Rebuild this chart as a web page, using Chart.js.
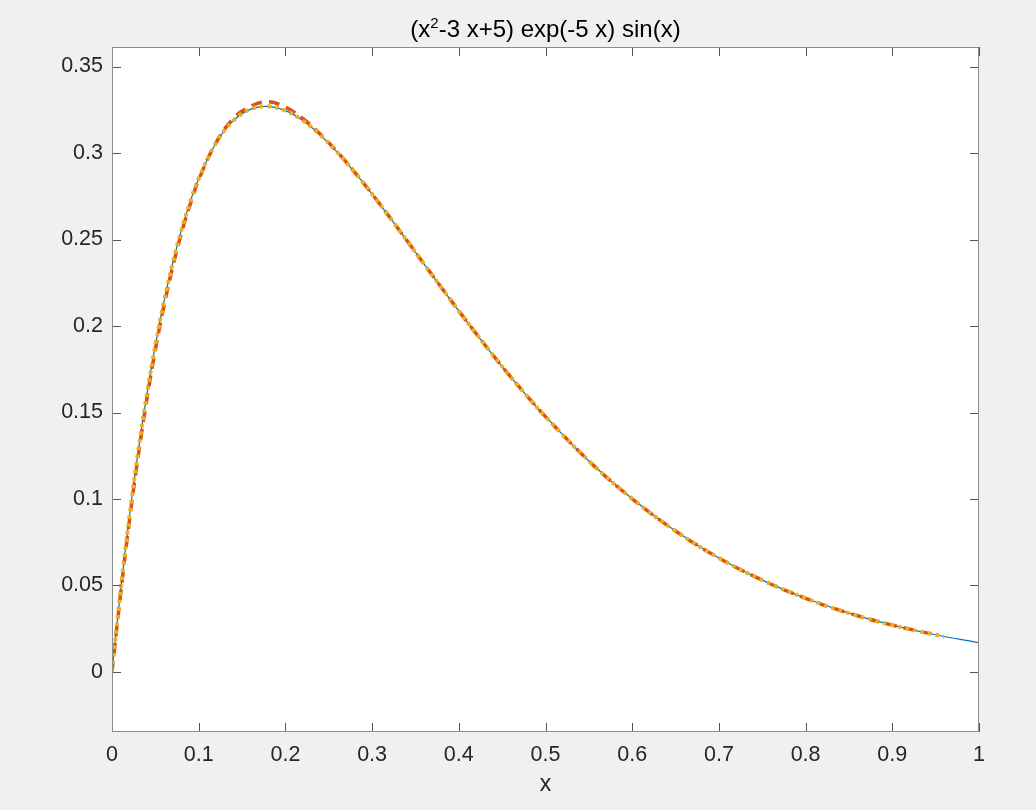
<!DOCTYPE html>
<html>
<head>
<meta charset="utf-8">
<style>
  html, body { margin: 0; padding: 0; background: #f0f0f0; }
  #wrap { width: 1036px; height: 810px; }
</style>
<script src="https://cdn.jsdelivr.net/npm/chart.js@4.4.0/dist/chart.umd.min.js"></script>
</head>
<body>
<div id="wrap"><canvas id="chart" width="1036" height="810"></canvas></div>
<script>
// values
const xs = [0, 0.01, 0.02, 0.03, 0.04, 0.05, 0.06, 0.07, 0.08, 0.09, 0.10,
            0.12, 0.14, 0.16, 0.18, 0.20, 0.22, 0.24, 0.26, 0.28, 0.30,
            0.32, 0.34, 0.36, 0.38, 0.40, 0.42, 0.44, 0.46, 0.48, 0.50,
            0.55, 0.60, 0.65, 0.70, 0.75, 0.80, 0.85, 0.90, 0.95, 1.00];

const exact = [0, 0.0473, 0.0894, 0.1268, 0.1598, 0.1889, 0.2143, 0.2363, 0.2553, 0.2715, 0.2852,
               0.3058, 0.3187, 0.3254, 0.3270, 0.3245, 0.3188, 0.3105, 0.3004, 0.2888, 0.2763,
               0.2631, 0.2495, 0.2358, 0.2222, 0.2087, 0.1956, 0.1828, 0.1705, 0.1588, 0.1476,
               0.1220, 0.1001, 0.0815, 0.0659, 0.0531, 0.0426, 0.0340, 0.0271, 0.0215, 0.0170];

// dashed approximation, stops at 0.95
const approx = [0, 0.0455, 0.0870, 0.1240, 0.1570, 0.1862, 0.2118, 0.2340, 0.2535, 0.2700, 0.2845,
                0.3060, 0.3200, 0.3270, 0.3297, 0.3265, 0.3200, 0.3110, 0.3006, 0.2888, 0.2763,
                0.2631, 0.2495, 0.2358, 0.2222, 0.2087, 0.1956, 0.1828, 0.1705, 0.1588, 0.1476,
                0.1220, 0.1001, 0.0815, 0.0659, 0.0531, 0.0426, 0.0340, 0.0271, 0.0215];

// dotted series, stops at 0.96
const dotX = [0, 0.01, 0.02, 0.03, 0.04, 0.05, 0.06, 0.07, 0.08, 0.09, 0.10,
              0.12, 0.14, 0.16, 0.18, 0.20, 0.22, 0.24, 0.26, 0.28, 0.30,
              0.32, 0.34, 0.36, 0.38, 0.40, 0.42, 0.44, 0.46, 0.48, 0.50,
              0.55, 0.60, 0.65, 0.70, 0.75, 0.80, 0.85, 0.90, 0.95, 0.96];
const dotY = [0, 0.0473, 0.0894, 0.1268, 0.1598, 0.1889, 0.2143, 0.2363, 0.2553, 0.2715, 0.2852,
              0.3058, 0.3187, 0.3254, 0.3270, 0.3245, 0.3188, 0.3105, 0.3004, 0.2888, 0.2763,
              0.2631, 0.2495, 0.2358, 0.2222, 0.2087, 0.1956, 0.1828, 0.1705, 0.1588, 0.1476,
              0.1220, 0.1001, 0.0815, 0.0659, 0.0531, 0.0426, 0.0340, 0.0271, 0.0215, 0.0205];

const xTicks = [0, 0.1, 0.2, 0.3, 0.4, 0.5, 0.6, 0.7, 0.8, 0.9, 1];
const xTickLabels = ['0', '0.1', '0.2', '0.3', '0.4', '0.5', '0.6', '0.7', '0.8', '0.9', '1'];
const yTicks = [0, 0.05, 0.1, 0.15, 0.2, 0.25, 0.3, 0.35];
const yTickLabels = ['0', '0.05', '0.1', '0.15', '0.2', '0.25', '0.3', '0.35'];

// title split around the superscript
const titleParts = ['(x', '2', '-3 x+5) exp(-5 x) sin(x)'];

const pts = (x, y) => y.map((v, i) => ({ x: x[i], y: v }));

const FONT = '"Liberation Sans", Arial, Helvetica, sans-serif';
const TEXT = '#262626';

// white axes area, box and inward ticks like matlab
const axesBox = {
    id: 'axesBox',
    beforeDraw(chart) {
        const { ctx, chartArea: a } = chart;
        ctx.save();
        ctx.fillStyle = '#f0f0f0';
        ctx.fillRect(0, 0, chart.width, chart.height);
        ctx.fillStyle = '#ffffff';
        ctx.fillRect(a.left, a.top, a.right - a.left, a.bottom - a.top);
        ctx.restore();
    },
    afterDatasetsDraw(chart) {
        const { ctx, chartArea: a, scales } = chart;
        const len = 9;
        ctx.save();
        ctx.strokeStyle = '#555555';
        ctx.lineWidth = 1;
        ctx.beginPath();
        xTicks.forEach(v => {
            const px = Math.round(scales.x.getPixelForValue(v)) + 0.5;
            ctx.moveTo(px, a.bottom); ctx.lineTo(px, a.bottom - len);
            ctx.moveTo(px, a.top); ctx.lineTo(px, a.top + len);
        });
        yTicks.forEach(v => {
            const py = Math.round(scales.y.getPixelForValue(v)) + 0.5;
            ctx.moveTo(a.left, py); ctx.lineTo(a.left + len, py);
            ctx.moveTo(a.right, py); ctx.lineTo(a.right - len, py);
        });
        ctx.stroke();
        ctx.strokeStyle = '#8c8c8c';
        ctx.strokeRect(a.left + 0.5, a.top + 0.5, a.right - a.left - 1, a.bottom - a.top - 1);
        ctx.restore();
    }
};

// title centred over the axes, with a raised small "2"
const supTitle = {
    id: 'supTitle',
    afterDraw(chart) {
        const { ctx, chartArea: a } = chart;
        const big = '24px ' + FONT, small = '15px ' + FONT;
        ctx.save();
        ctx.fillStyle = '#000000';
        ctx.textBaseline = 'alphabetic';
        ctx.textAlign = 'left';
        ctx.font = big;
        const w0 = ctx.measureText(titleParts[0]).width;
        const w2 = ctx.measureText(titleParts[2]).width;
        ctx.font = small;
        const w1 = ctx.measureText(titleParts[1]).width;
        let x = (a.left + a.right) / 2 - (w0 + w1 + w2) / 2;
        const base = 37;
        ctx.font = big;
        ctx.fillText(titleParts[0], x, base);
        x += w0;
        ctx.font = small;
        ctx.fillText(titleParts[1], x, base - 9);
        x += w1;
        ctx.font = big;
        ctx.fillText(titleParts[2], x, base);
        ctx.restore();
    }
};

new Chart(document.getElementById('chart').getContext('2d'), {
    type: 'line',
    data: {
        datasets: [
            {
                label: 'exact',
                data: pts(xs, exact),
                borderColor: '#0072BD',
                borderWidth: 1.2,
                pointRadius: 0,
                tension: 0.4,
                fill: false,
                order: 3
            },
            {
                label: 'approx',
                data: pts(xs, approx),
                borderColor: '#D95319',
                borderWidth: 3.5,
                borderDash: [11, 7],
                pointRadius: 0,
                tension: 0.4,
                fill: false,
                order: 2
            },
            {
                label: 'dotted',
                data: pts(dotX, dotY),
                borderColor: '#EDB120',
                borderWidth: 4,
                borderDash: [3.5, 4.2],
                pointRadius: 0,
                tension: 0.4,
                fill: false,
                order: 1
            }
        ]
    },
    options: {
        responsive: false,
        animation: false,
        layout: { padding: { left: 0, right: 57, top: 47, bottom: 0 } },
        plugins: {
            legend: { display: false },
            tooltip: { enabled: false },
            title: { display: false }
        },
        scales: {
            x: {
                type: 'linear',
                min: 0,
                max: 1,
                afterBuildTicks: s => { s.ticks = xTicks.map(v => ({ value: v })); },
                afterFit: s => { s.height = 78; },
                grid: { display: false, drawTicks: false },
                border: { display: false },
                ticks: {
                    color: TEXT,
                    font: { family: FONT, size: 21.5 },
                    padding: 10,
                    maxRotation: 0,
                    autoSkip: false,
                    callback: (v, i) => xTickLabels[i]
                },
                title: {
                    display: true,
                    text: 'x',
                    color: TEXT,
                    font: { family: FONT, size: 23 },
                    padding: { top: 2, bottom: 12 }
                }
            },
            y: {
                type: 'linear',
                min: -0.0347,
                max: 0.3613,
                afterBuildTicks: s => { s.ticks = yTicks.map(v => ({ value: v })); },
                afterFit: s => { s.width = 112; },
                grid: { display: false, drawTicks: false },
                border: { display: false },
                ticks: {
                    color: TEXT,
                    font: { family: FONT, size: 21.5 },
                    padding: 9,
                    autoSkip: false,
                    callback: (v, i) => yTickLabels[i]
                }
            }
        }
    },
    plugins: [axesBox, supTitle]
});
</script>
</body>
</html>
